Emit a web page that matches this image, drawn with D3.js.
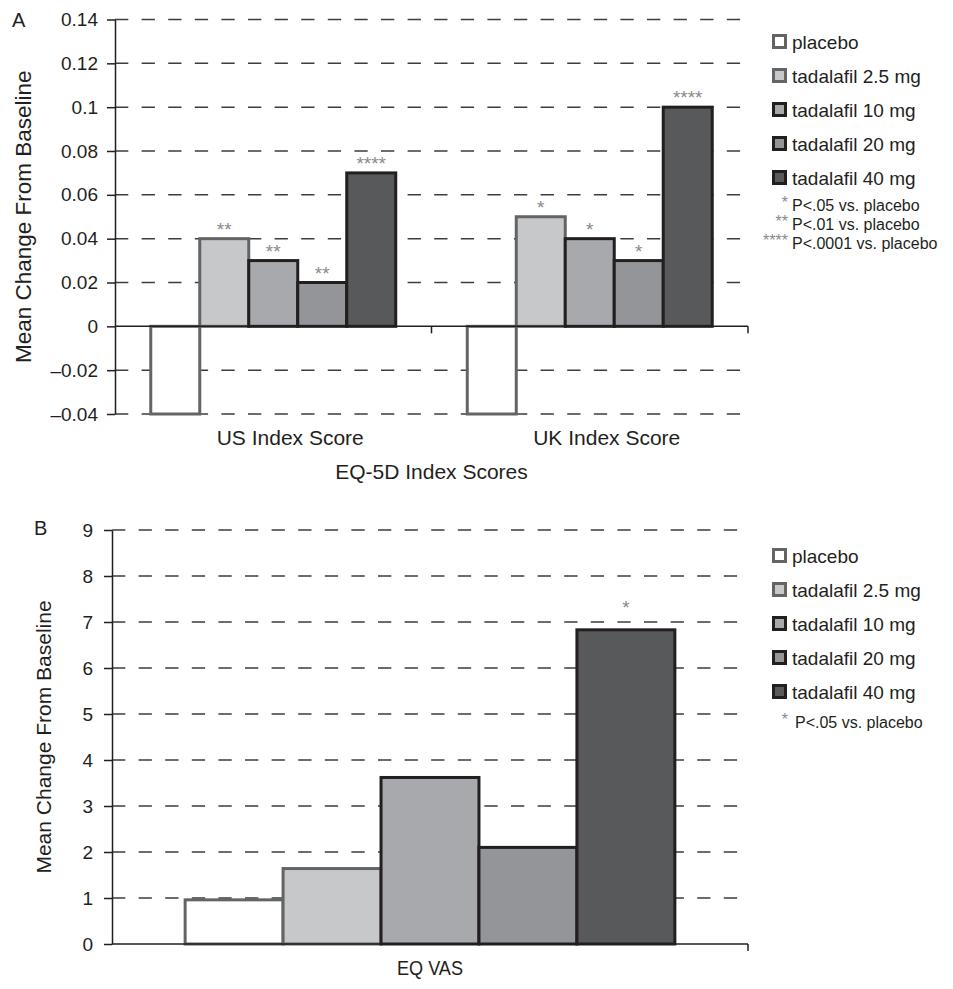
<!DOCTYPE html>
<html>
<head>
<meta charset="utf-8">
<script src="https://cdn.jsdelivr.net/npm/d3@7"></script>
<style>
  body { margin: 0; background: #fff; }
  text { font-family: "Liberation Sans", Arial, sans-serif; fill: #231f20; }
</style>
</head>
<body>
<div id="chart"></div>
<script>
// groups / legend
const groups = ["placebo", "tadalafil 2.5 mg", "tadalafil 10 mg", "tadalafil 20 mg", "tadalafil 40 mg"];
const fills = ["#ffffff", "#c7c8ca", "#a7a9ac", "#939598", "#58595b"];
const strokes = ["#636466", "#636466", "#231f20", "#231f20", "#231f20"];

// panel A
const indexCategories = ["US Index Score", "UK Index Score"];
const usValues = [-0.04, 0.04, 0.03, 0.02, 0.07];
const ukValues = [-0.04, 0.05, 0.04, 0.03, 0.10];
const usStars = ["", "**", "**", "**", "****"];
const ukStars = ["", "*", "*", "*", "****"];
const indexTicks = [-0.04, -0.02, 0, 0.02, 0.04, 0.06, 0.08, 0.1, 0.12, 0.14];
const indexTickLabels = ["\u20130.04", "\u20130.02", "0", "0.02", "0.04", "0.06", "0.08", "0.1", "0.12", "0.14"];
const notesA = ["*", "**", "****"];
const notesAText = ["P<.05 vs. placebo", "P<.01 vs. placebo", "P<.0001 vs. placebo"];

// panel B
const vasCategories = ["EQ VAS"];
const vasValues = [0.96, 1.64, 3.62, 2.1, 6.83];
const vasStars = ["", "", "", "", "*"];
const vasTicks = [0, 1, 2, 3, 4, 5, 6, 7, 8, 9];
const notesB = ["*"];
const notesBText = ["P<.05 vs. placebo"];

const width = 953, height = 989;
const ink = "#231f20";

let svg = d3.select("#chart").append("svg")
  .attr("width", width)
  .attr("height", height);

function drawPanel(opts) {
  const g = svg.append("g");
  const x0 = d3.scaleBand()
    .domain(opts.categories)
    .range([opts.left, opts.right])
    .paddingInner(opts.pad)
    .paddingOuter(opts.pad / 2);
  const x1 = d3.scaleBand()
    .domain(groups)
    .range([0, x0.bandwidth()]);
  const y = d3.scaleLinear()
    .domain(opts.domain)
    .range([opts.bottom, opts.top]);

  // dashed grid
  g.selectAll("line.grid")
    .data(opts.ticks.filter(d => d !== 0))
    .enter().append("line")
    .attr("class", "grid")
    .attr("x1", opts.left).attr("x2", opts.gridEnd)
    .attr("y1", d => y(d)).attr("y2", d => y(d))
    .attr("stroke", "#3d3d3d")
    .attr("stroke-width", 1.5)
    .attr("stroke-dasharray", "13.3,13.3");

  // bars
  opts.categories.forEach((cat, ci) => {
    const vals = opts.values[ci];
    const stars = opts.stars[ci];
    g.selectAll("rect.bar" + ci)
      .data(vals)
      .enter().append("rect")
      .attr("class", "bar" + ci)
      .attr("x", (d, i) => x0(cat) + x1(groups[i]))
      .attr("width", x1.bandwidth())
      .attr("y", d => y(Math.max(0, d)))
      .attr("height", d => Math.abs(y(d) - y(0)))
      .attr("fill", (d, i) => fills[i])
      .attr("stroke", (d, i) => strokes[i])
      .attr("stroke-width", 3);
    g.selectAll("text.star" + ci)
      .data(vals)
      .enter().append("text")
      .attr("class", "star" + ci)
      .attr("x", (d, i) => x0(cat) + x1(groups[i]) + x1.bandwidth() / 2)
      .attr("y", d => y(Math.max(0, d)) - opts.starGap)
      .attr("text-anchor", "middle")
      .style("font-size", "19px")
      .style("fill", "#8a8a8a")
      .text((d, i) => stars[i]);
    const cl = g.append("text")
      .attr("x", x0(cat) + x0.bandwidth() / 2 + opts.catShift)
      .attr("y", opts.catY)
      .attr("text-anchor", "middle")
      .style("font-size", "21px")
      .text(cat);
    if (opts.catLength) {
      cl.attr("textLength", opts.catLength).attr("lengthAdjust", "spacingAndGlyphs");
    }
  });

  // zero line with category ticks
  g.append("line")
    .attr("x1", opts.left).attr("x2", opts.right)
    .attr("y1", y(0)).attr("y2", y(0))
    .attr("stroke", ink).attr("stroke-width", 1.5);
  const bounds = opts.categories.map(c => x0(c) - x0.step() * x0.paddingInner() / 2).slice(1).concat([opts.right]);
  g.selectAll("line.xtick")
    .data(bounds)
    .enter().append("line")
    .attr("class", "xtick")
    .attr("x1", d => d).attr("x2", d => d)
    .attr("y1", y(0)).attr("y2", y(0) + 7)
    .attr("stroke", ink).attr("stroke-width", 1.5);

  // y axis
  const yAxis = g.append("g")
    .attr("transform", "translate(" + opts.left + ",0)")
    .call(d3.axisLeft(y)
      .tickValues(opts.ticks)
      .tickFormat((d, i) => opts.tickLabels[i])
      .tickSize(8)
      .tickSizeOuter(0)
      .tickPadding(opts.tickPad));
  yAxis.select(".domain").attr("stroke", ink).attr("stroke-width", 1.5);
  yAxis.selectAll(".tick line").attr("stroke", ink).attr("stroke-width", 1.5);
  yAxis.selectAll(".tick text")
    .style("font-family", "'Liberation Sans', Arial, sans-serif")
    .style("font-size", "19px")
    .style("fill", ink);

  // axis titles
  g.append("text")
    .attr("transform", "translate(" + opts.yTitleX + "," + ((opts.top + opts.bottom) / 2) + ") rotate(-90)")
    .attr("text-anchor", "middle")
    .attr("dy", "0.35em")
    .style("font-size", opts.yTitleSize)
    .text("Mean Change From Baseline");
  if (opts.xTitle) {
    g.append("text")
      .attr("x", (opts.left + opts.right) / 2)
      .attr("y", opts.xTitleY)
      .attr("text-anchor", "middle")
      .style("font-size", "21px")
      .text(opts.xTitle);
  }
  g.append("text")
    .attr("x", opts.labelX).attr("y", opts.labelY)
    .style("font-size", "20px")
    .text(opts.label);

  // legend
  const leg = g.selectAll("g.leg")
    .data(groups)
    .enter().append("g")
    .attr("transform", (d, i) => "translate(" + opts.legX + "," + (opts.legY + i * 34) + ")");
  leg.append("rect")
    .attr("x", 1.5).attr("y", -6.5)
    .attr("width", 12).attr("height", 12)
    .attr("fill", (d, i) => fills[i])
    .attr("stroke", (d, i) => strokes[i])
    .attr("stroke-width", 3);
  leg.append("text")
    .attr("x", 20).attr("dy", "0.35em")
    .style("font-size", "19px")
    .text(d => d);

  opts.notes.forEach((s, i) => {
    const ny = opts.noteY + i * opts.noteStep;
    g.append("text")
      .attr("x", opts.legX + 16).attr("y", ny + 3)
      .attr("text-anchor", "end")
      .style("font-size", "16px")
      .style("fill", "#8a8a8a")
      .text(s);
    g.append("text")
      .attr("x", opts.legX + opts.noteTextX).attr("y", ny)
      .attr("dy", "0.35em")
      .style("font-size", "16px")
      .text(opts.noteText[i]);
  });
}

drawPanel({
  categories: indexCategories,
  values: [usValues, ukValues],
  stars: [usStars, ukStars],
  domain: [-0.04, 0.14],
  ticks: indexTicks, tickLabels: indexTickLabels,
  left: 115, right: 748, top: 19.5, bottom: 414, gridEnd: 742, pad: 0.226,
  tickPad: 9, starGap: 3, catShift: 17, catY: 445, catLength: null,
  xTitle: "EQ-5D Index Scores", xTitleY: 479,
  yTitleX: 23, yTitleSize: "22.5px",
  label: "A", labelX: 12, labelY: 27,
  legX: 772, legY: 42,
  notes: notesA, noteText: notesAText, noteY: 205, noteStep: 19, noteTextX: 20
});

drawPanel({
  categories: vasCategories,
  values: [vasValues],
  stars: [vasStars],
  domain: [0, 9],
  ticks: vasTicks, tickLabels: vasTicks.map(String),
  left: 112, right: 748, top: 530, bottom: 944, gridEnd: 742, pad: 0.23,
  tickPad: 11, starGap: 16, catShift: 0, catY: 975, catLength: 66,
  xTitle: null,
  yTitleX: 44, yTitleSize: "21px",
  label: "B", labelX: 34, labelY: 535,
  legX: 772, legY: 556,
  notes: notesB, noteText: notesBText, noteY: 722, noteStep: 19, noteTextX: 23
});
</script>
</body>
</html>
